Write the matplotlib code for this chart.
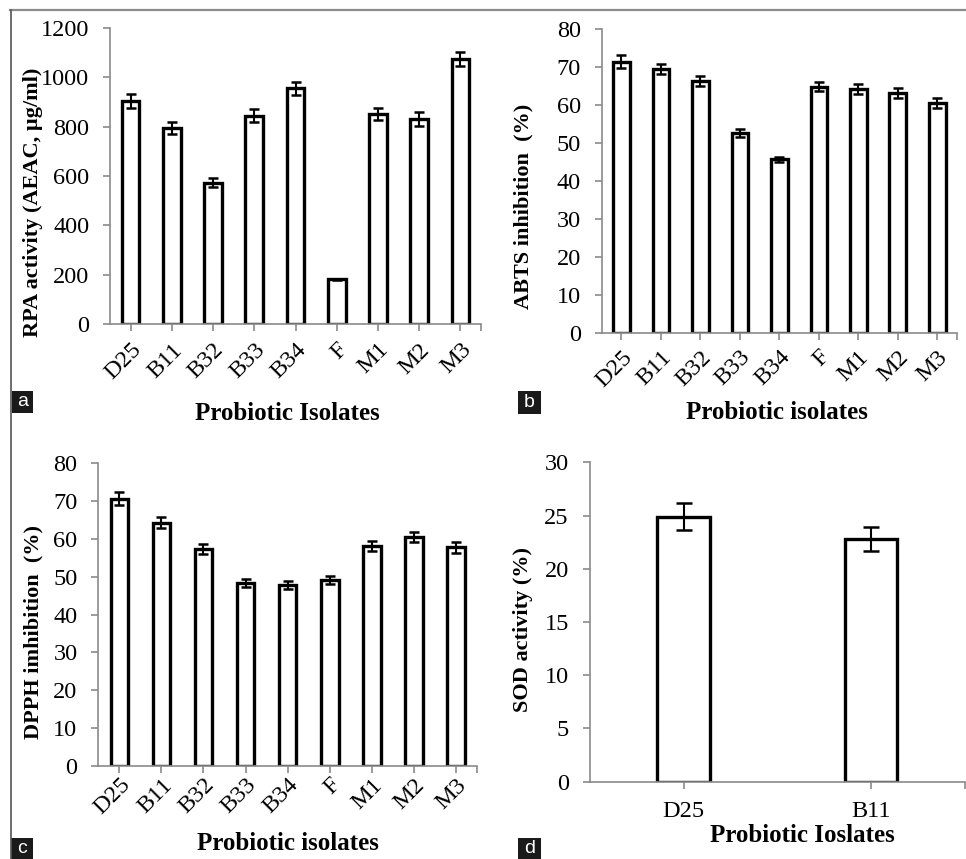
import numpy as np
import matplotlib
matplotlib.use('Agg')
import matplotlib.pyplot as plt
from matplotlib.patches import Rectangle
from matplotlib.lines import Line2D

plt.rcParams['font.family'] = ['Liberation Serif', 'DejaVu Serif']

# data
isolates = ['D25', 'B11', 'B32', 'B33', 'B34', 'F', 'M1', 'M2', 'M3']
rpa = [905, 795, 573, 844, 955, 181, 851, 831, 1074]
rpa_err = [28, 24, 17, 27, 27, 3, 24, 27, 30]
abts = [71.5, 69.5, 66.4, 52.6, 45.7, 64.9, 64.3, 63.2, 60.5]
abts_err = [1.6, 1.3, 1.3, 1.0, 0.7, 1.3, 1.3, 1.2, 1.3]
dpph = [70.6, 64.3, 57.4, 48.3, 47.8, 49.2, 58.1, 60.6, 57.8]
dpph_err = [1.7, 1.4, 1.3, 1.0, 1.0, 1.1, 1.4, 1.3, 1.5]
sod_isolates = ['D25', 'B11']
sod = [24.9, 22.8]
sod_err = [1.25, 1.1]

W, H = 966, 859
fig = plt.figure(figsize=(W / 100, H / 100), dpi=100)


def px(x, y):
    return x / W, 1 - y / H


def axes_px(x0, x1, y0, y1):
    # x0/x1 left/right, y0 = pixel row of value 0, y1 = pixel row of top
    return fig.add_axes([x0 / W, 1 - y0 / H, (x1 - x0) / W, (y0 - y1) / H])


def panel(ax, names, vals, errs, ymax, ystep, width, cap, xpad, rot=True):
    x = np.arange(len(names))
    ax.bar(x, vals, width=width, color='white', edgecolor='black', linewidth=2.4, zorder=2)
    ax.errorbar(x, vals, yerr=errs, fmt='none', ecolor='black', elinewidth=1.5,
                capsize=cap, capthick=1.8, zorder=3)
    ax.set_xlim(-0.5, len(names) - 0.5)
    ax.set_ylim(0, ymax)
    ax.set_yticks(np.arange(0, ymax + ystep / 2, ystep))
    ax.set_xticks(x)
    ax.set_xticks([len(names) - 0.5], minor=True)
    if rot:
        ax.set_xticklabels(names, rotation=45, ha='right', va='top', rotation_mode='anchor')
    else:
        ax.set_xticklabels(names)
    for s in ['top', 'right']:
        ax.spines[s].set_visible(False)
    for s in ['left', 'bottom']:
        ax.spines[s].set_color('#8a8a8a')
        ax.spines[s].set_linewidth(1.2)
    ax.tick_params(which='both', direction='out', length=5, width=1.2, color='#8a8a8a',
                   labelsize=17.5)
    ax.tick_params(axis='y', pad=10)
    ax.tick_params(axis='x', pad=xpad)


ax_a = axes_px(110, 481, 324, 28)
panel(ax_a, isolates, rpa, rpa_err, 1200, 200, 0.43, 3.9, 6)
ax_b = axes_px(601.7, 957, 332.7, 29.3)
panel(ax_b, isolates, abts, abts_err, 80, 10, 0.42, 3.9, 5)
ax_c = axes_px(98.3, 477, 766, 463.3)
panel(ax_c, isolates, dpph, dpph_err, 80, 10, 0.42, 3.9, 1)
ax_d = axes_px(589.7, 965, 781.7, 462.3)
panel(ax_d, sod_isolates, sod, sod_err, 30, 5, 0.28, 6, 9, rot=False)

ylab = dict(fontsize=16, fontweight='bold', ha='center', va='center', rotation=90)
xlab = dict(fontsize=18, fontweight='bold', ha='center', va='center')
fig.text(*px(33, 202), 'RPA activity (AEAC, µg/ml)', **ylab)
fig.text(*px(523, 206), 'ABTS inhibition  (%)', **ylab)
fig.text(*px(33, 632), 'DPPH imhibition  (%)', **ylab)
fig.text(*px(523, 629), 'SOD activity (%)', **ylab)
fig.text(*px(287, 413), 'Probiotic Isolates', **xlab)
fig.text(*px(777, 412), 'Probiotic isolates', **xlab)
fig.text(*px(288, 843), 'Probiotic isolates', **xlab)
fig.text(*px(802, 836), 'Probiotic Ioslates', **xlab)

# frame lines
fig.add_artist(Line2D([10 / W, 965 / W], [1 - 10 / H, 1 - 10 / H], color='#8c8c8c', lw=1.6,
                      transform=fig.transFigure))
fig.add_artist(Line2D([10.5 / W, 10.5 / W], [1 - 10 / H, 0], color='#555555', lw=1.2,
                      transform=fig.transFigure))

# panel letters
for letter, (bx, by, bw, bh) in zip('abcd', [(12, 391, 21, 22), (518, 391, 23, 23),
                                            (11, 838, 22, 21), (518, 838, 23, 21)]):
    fig.add_artist(Rectangle((bx / W, 1 - (by + bh) / H), bw / W, bh / H, facecolor='#1a1a1a',
                             edgecolor='none', transform=fig.transFigure))
    fig.text((bx + bw / 2) / W, 1 - (by + bh / 2) / H, letter, color='white', fontsize=14,
             family=['Liberation Sans', 'DejaVu Sans'], ha='center', va='center')

plt.savefig('out.png', dpi=100)
plt.close()
